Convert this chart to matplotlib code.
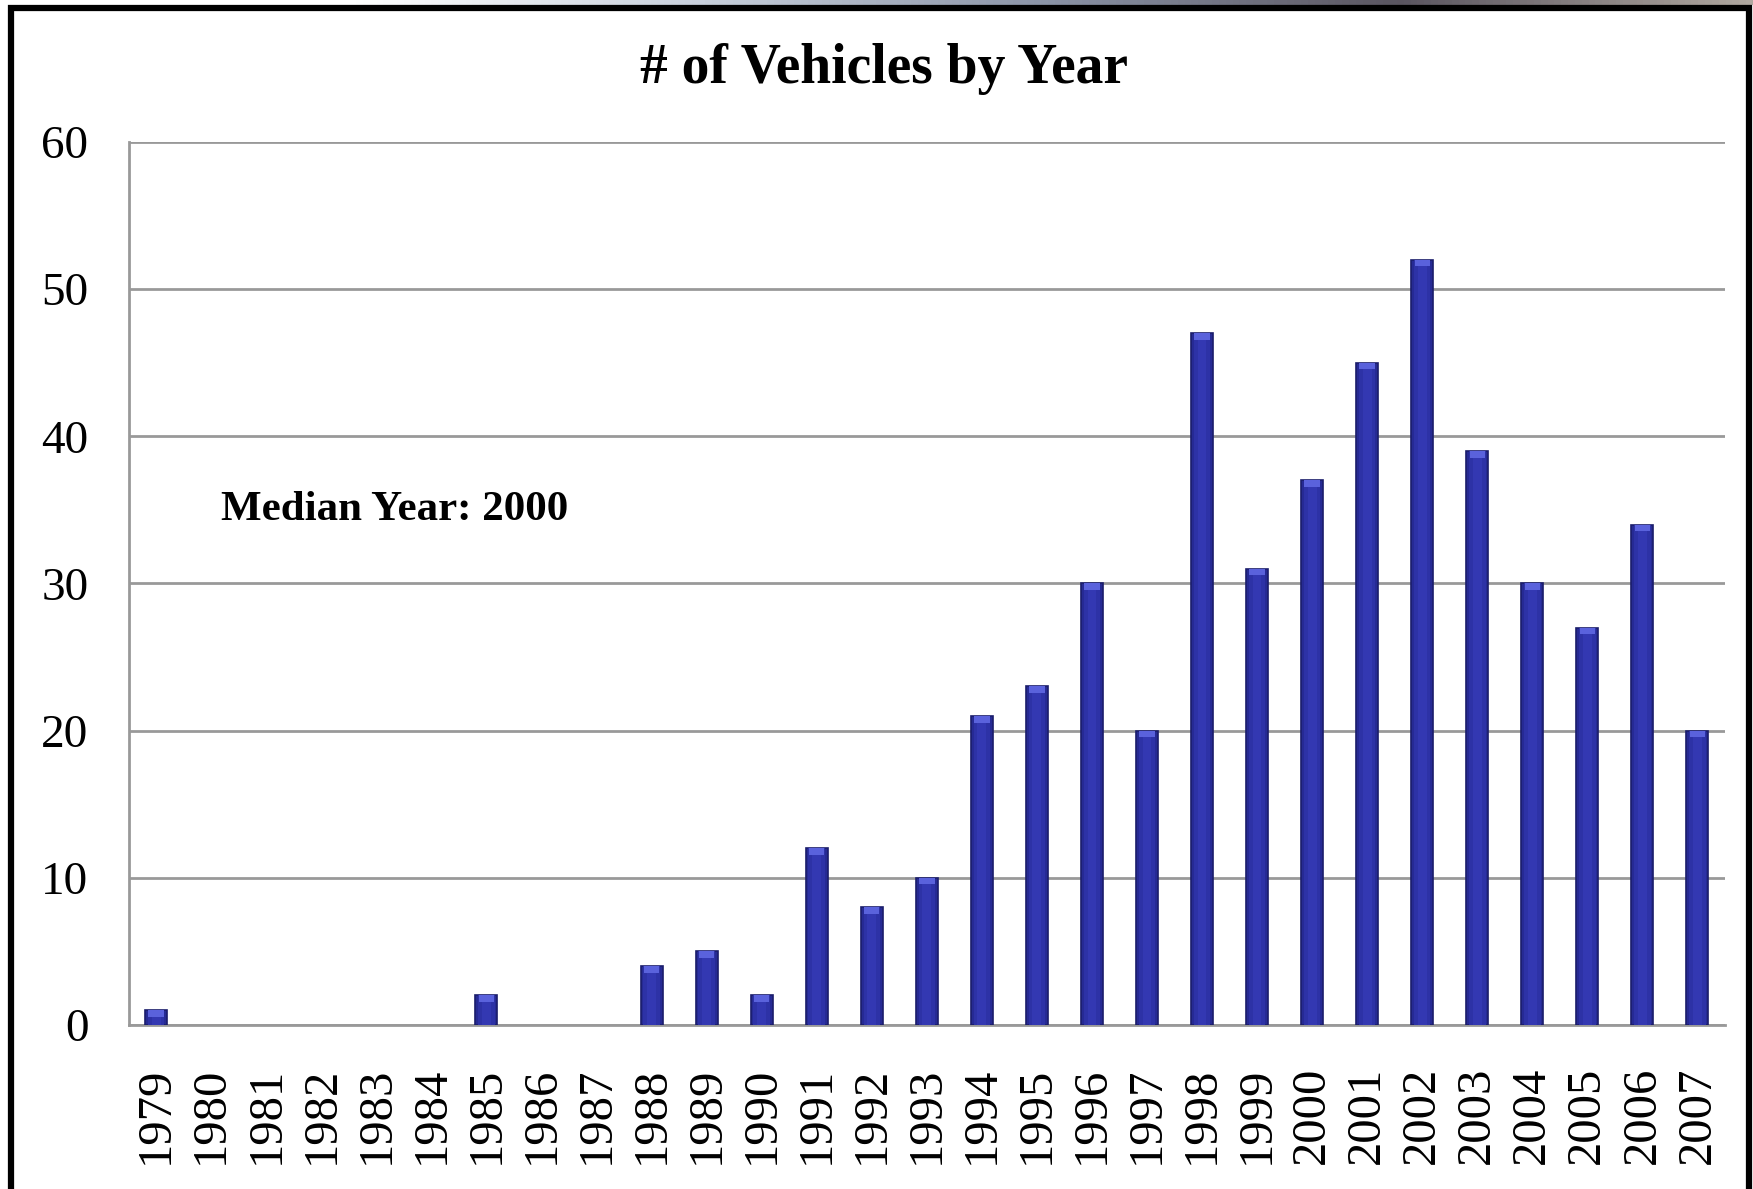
import numpy as np
import matplotlib
matplotlib.use('Agg')
import matplotlib.pyplot as plt
from matplotlib.patches import Rectangle

years = [str(y) for y in range(1979, 2008)]
counts = [1, 0, 0, 0, 0, 0, 2, 0, 0, 4, 5, 2, 12, 8, 10,
          21, 23, 30, 20, 47, 31, 37, 45, 52, 39, 30, 27, 34, 20]
yticks = [0, 10, 20, 30, 40, 50, 60]
title = '# of Vehicles by Year'
note = 'Median Year: 2000'

plt.rcParams['font.family'] = ['Liberation Serif', 'DejaVu Serif']

fig = plt.figure(figsize=(17.53, 11.89), dpi=100)
ax = fig.add_axes([0.0734, 0.138, 0.9106, 0.7426])

x = np.arange(len(years))
vals = np.array(counts, dtype=float)
bw = 0.4
edges = ['#1a1d6b' if v > 0 else 'none' for v in vals]
ax.bar(x, vals, width=bw, color='#262a94', edgecolor=edges, linewidth=1.2, zorder=3)
# lighter inner strips for the bevelled look
ax.bar(x, vals, width=bw * 0.75, color='#2d32a6', linewidth=0, zorder=3)
ax.bar(x, vals, width=bw * 0.4, color='#3338b2', linewidth=0, zorder=3)
cap = np.minimum(vals, 0.45)
ax.bar(x, cap, bottom=vals - cap, width=bw * 0.7, color='#5a62dc', linewidth=0, zorder=4)

ax.set_xlim(-0.5, len(years) - 0.5)
ax.set_ylim(0, 60)
ax.set_yticks(yticks)
ax.set_xticks(x)
ax.set_xticklabels(years, rotation=90)
ax.tick_params(axis='both', length=0)
ax.tick_params(axis='y', pad=29, labelsize=34)
ax.tick_params(axis='x', pad=30, labelsize=35)

ax.grid(axis='y', color='#999999', linewidth=2, zorder=0)
for s in ['top', 'right']:
    ax.spines[s].set_visible(False)
for s in ['left', 'bottom']:
    ax.spines[s].set_color('#999999')
    ax.spines[s].set_linewidth(2)

ax.text(1.18, 35, note, fontsize=31, fontweight='bold', va='center', ha='left')

fig.text(0.504, 0.942, title, fontsize=40, fontweight='bold', ha='center', va='center')

# outer frame
fig.patches.append(Rectangle((0.0063, -0.05), 0.9917, 1.043, transform=fig.transFigure,
                             fill=False, edgecolor='black', linewidth=4.5))

# faint strip at top edge
strip = fig.add_axes([0.0, 0.996, 1.0, 0.004])
grad = np.linspace(0, 1, 256).reshape(1, -1)
strip.imshow(grad, aspect='auto', cmap=matplotlib.colors.LinearSegmentedColormap.from_list(
    'edge', ['#ffffff', '#ffffff', '#c8d0dc', '#8a93a6', '#5a5560', '#b0a8a0']))
strip.axis('off')

fig.savefig('out.png', dpi=100)
